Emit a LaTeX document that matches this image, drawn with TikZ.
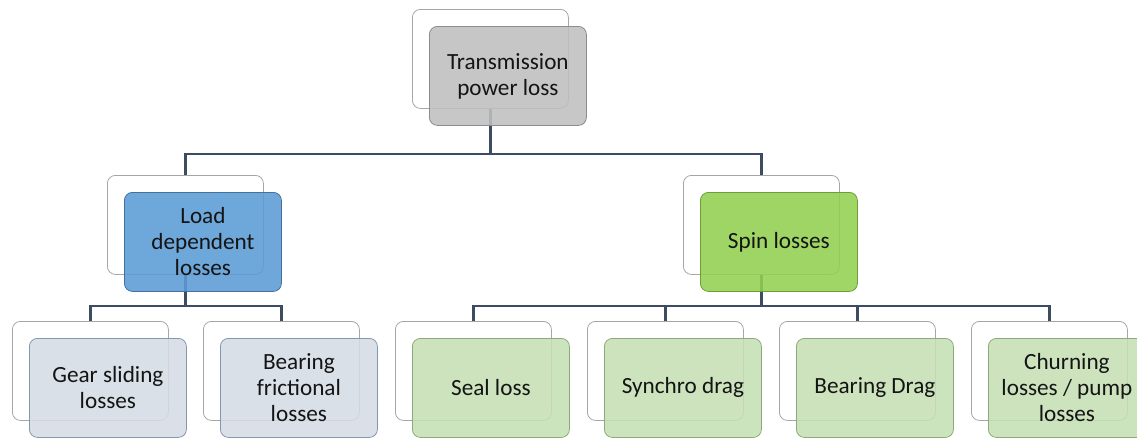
\documentclass[tikz,border=0pt]{standalone}
\usepackage{fontspec}
\setmainfont{Carlito}
\definecolor{linkc}{HTML}{3E4C63}
\definecolor{backc}{HTML}{A6A6A6}
\definecolor{greyF}{HTML}{BFBFBF}
\definecolor{greyD}{HTML}{8C8C8C}
\definecolor{blueF}{HTML}{5B9BD5}
\definecolor{blueD}{HTML}{41719C}
\definecolor{greenF}{HTML}{92D050}
\definecolor{greenD}{HTML}{6D9E3A}
\definecolor{paleBF}{HTML}{D6DCE5}
\definecolor{paleBD}{HTML}{8497B0}
\definecolor{paleGF}{HTML}{C5E0B4}
\definecolor{paleGD}{HTML}{8FAA7A}
\begin{document}
\begin{tikzpicture}[x=1pt,y=-1pt,
  back/.style={draw=backc, fill=white, line width=0.8pt, rounded corners=8pt,
    minimum width=156pt, minimum height=99pt, inner sep=0pt, anchor=north west},
  front/.style={rounded corners=8pt, line width=0.8pt, fill opacity=0.88, text opacity=1,
    minimum width=157pt, minimum height=99pt, inner sep=0pt, anchor=north west,
    align=center, text=black!92, font=\fontsize{23.2}{26}\selectfont},
  topbox/.style={front, fill=greyF, draw=greyD},
  loadbox/.style={front, fill=blueF, draw=blueD},
  spinbox/.style={front, fill=greenF, draw=greenD},
  paleblue/.style={front, fill=paleBF, draw=paleBD},
  palegreen/.style={front, fill=paleGF, draw=paleGD},
  link/.style={draw=linkc, line width=2.2pt}]
\useasboundingbox (0,0) rectangle (1137,437);
\clip (0,0) rectangle (1137,437);

% back (outline) boxes
\node[back] (tB) at (412,9) {};
\node[back] (lB) at (107,175) {};
\node[back] (rB) at (683,175) {};
\node[back] (a1B) at (12,321) {};
\node[back] (a2B) at (203,321) {};
\node[back] (b1B) at (395,321) {};
\node[back] (b2B) at (587,321) {};
\node[back] (b3B) at (779,321) {};
\node[back] (b4B) at (971,321) {};

% connectors
\draw[link] (tB.south) -- ++(0,45) coordinate (j0) -| (lB.north);
\draw[link] (j0) -| (rB.north);
\draw[link] (lB.south) -- ++(0,31) coordinate (j1) -| (a1B.north);
\draw[link] (j1) -| (a2B.north);
\draw[link] (rB.south) -- ++(0,31) coordinate (j2) -| (b1B.north);
\draw[link] (j2) -| (b4B.north);
\draw[link] (b2B.north) -- (b2B.north |- j2);
\draw[link] (b3B.north) -- (b3B.north |- j2);

% front (coloured) boxes
\node[topbox] (tF) at (429,26) {Transmission\\power loss};
\node[loadbox] (lF) at (124,192) {Load\\dependent\\losses};
\node[spinbox] (rF) at (700,192) {Spin losses};
\node[paleblue] (a1F) at (29,338) {Gear sliding\\losses};
\node[paleblue] (a2F) at (220,338) {Bearing\\frictional\\losses};
\node[palegreen] (b1F) at (412,338) {Seal loss};
\node[palegreen] (b2F) at (604,338) {Synchro drag};
\node[palegreen] (b3F) at (796,338) {Bearing Drag};
\node[palegreen] (b4F) at (988,338) {Churning\\losses / pump\\losses};
\end{tikzpicture}
\end{document}
